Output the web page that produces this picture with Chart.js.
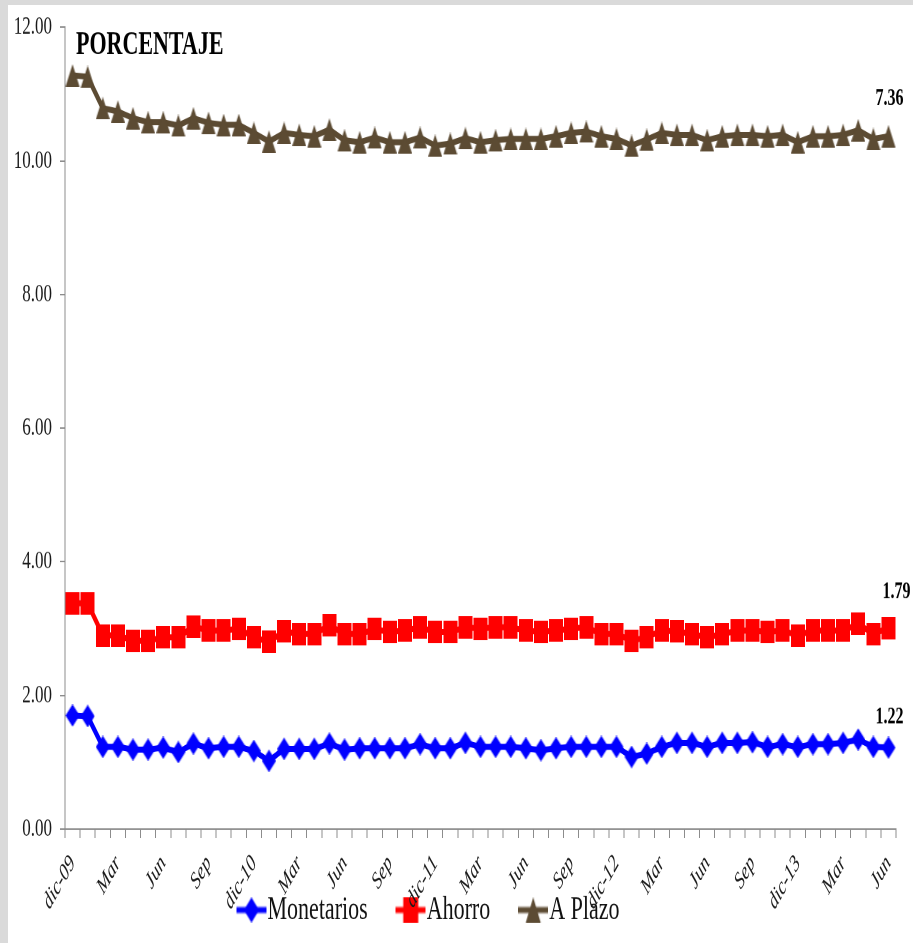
<!DOCTYPE html>
<html><head><meta charset="utf-8">
<script src="https://cdn.jsdelivr.net/npm/chart.js@4.4.1/dist/chart.umd.min.js"></script>
<style>
html,body{margin:0;padding:0;}
body{width:913px;height:943px;background:#dadada;position:relative;overflow:hidden;}
#paper{position:absolute;left:8px;top:5px;right:0;bottom:0;background:#fff;}
#wrap{position:absolute;left:0;top:0;width:913px;height:629px;transform:scale(1,1.4992);transform-origin:0 0;}
#c{width:913px;height:629px;display:block;}
</style></head><body>
<div id="paper"></div>
<div id="wrap"><canvas id="c" width="913" height="629"></canvas></div>
<script>
const categories = ['dic-09','ene-10','feb-10','mar-10','abr-10','may-10','jun-10','jul-10','ago-10','sep-10','oct-10','nov-10',
  'dic-10','ene-11','feb-11','mar-11','abr-11','may-11','jun-11','jul-11','ago-11','sep-11','oct-11','nov-11',
  'dic-11','ene-12','feb-12','mar-12','abr-12','may-12','jun-12','jul-12','ago-12','sep-12','oct-12','nov-12',
  'dic-12','ene-13','feb-13','mar-13','abr-13','may-13','jun-13','jul-13','ago-13','sep-13','oct-13','nov-13',
  'dic-13','ene-14','feb-14','mar-14','abr-14','may-14','jun-14'];
const tickLabels = ['dic-09','Mar','Jun','Sep','dic-10','Mar','Jun','Sep','dic-11','Mar','Jun','Sep','dic-12','Mar','Jun','Sep','dic-13','Mar','Jun'];
const monetarios = [1.70,1.69,1.23,1.23,1.19,1.19,1.22,1.15,1.28,1.21,
  1.23,1.23,1.17,1.02,1.20,1.20,1.20,1.28,1.19,1.21,
  1.21,1.21,1.21,1.27,1.21,1.21,1.29,1.23,1.23,1.23,
  1.21,1.18,1.21,1.23,1.23,1.23,1.23,1.08,1.13,1.23,
  1.29,1.29,1.23,1.29,1.29,1.30,1.23,1.27,1.23,1.27,
  1.27,1.29,1.34,1.23,1.22];
const ahorro = [1.68,1.69,1.67,1.67,1.63,1.63,1.65,1.72,1.75,1.76,
  1.74,1.77,1.70,1.78,1.76,1.72,1.72,1.77,1.73,1.71,
  1.78,1.74,1.76,1.75,1.74,1.74,1.73,1.77,1.79,1.79,
  1.76,1.77,1.76,1.77,1.79,1.69,1.69,1.74,1.74,1.74,
  1.67,1.63,1.64,1.63,1.68,1.67,1.72,1.70,1.67,1.70,
  1.70,1.68,1.73,1.69,1.79];
const aPlazo = [7.90,7.88,7.89,7.84,7.82,7.76,7.71,7.66,7.61,7.60,
  7.57,7.54,7.55,7.49,7.46,7.47,7.45,7.42,7.39,7.36,
  7.36,7.33,7.31,7.33,7.28,7.31,7.32,7.28,7.29,7.31,
  7.36,7.38,7.40,7.42,7.42,7.45,7.41,7.41,7.45,7.45,
  7.43,7.47,7.44,7.45,7.42,7.42,7.42,7.42,7.38,7.40,
  7.40,7.42,7.39,7.41,7.36];
const seriesNames = ['Monetarios','Ahorro','A Plazo'];
const seriesColors = ['#0000ff','#ff0000','#5c4b33'];
const seriesShapes = ['diamond','square','triangle'];
const titleText = 'PORCENTAJE';
const yMin = 0, yMax = 12, yStep = 2;

const SERIF = '"Liberation Serif", "Times New Roman", serif';
const labelOffsets = [[1,-16],[8,-20],[1,-20.7]];
const LEGEND_PAD = 38;
const LEGEND_FONT = 22;
const LEGEND_CENTER_Y = 607;

function shapePath(g, shape, cx, cy, w, h) {
  g.beginPath();
  if (shape === 'diamond') {
    g.moveTo(cx, cy - h/2); g.lineTo(cx + w/2, cy); g.lineTo(cx, cy + h/2); g.lineTo(cx - w/2, cy);
  } else if (shape === 'square') {
    g.rect(cx - w/2, cy - h/2, w, h);
  } else {
    g.moveTo(cx, cy - h/2); g.lineTo(cx + w/2, cy + h/2); g.lineTo(cx - w/2, cy + h/2);
  }
  g.closePath();
}
function makeMarker(shape, color) {
  const c = document.createElement('canvas'); c.width = 14; c.height = 15;
  const g = c.getContext('2d'); g.fillStyle = color;
  shapePath(g, shape, 7, 7.5, 14, 15); g.fill();
  return c;
}
function makeLegendIcon(shape, color) {
  const c = document.createElement('canvas'); c.width = 30; c.height = 17;
  const g = c.getContext('2d'); g.fillStyle = color; g.strokeStyle = color; g.lineWidth = 4;
  g.beginPath(); g.moveTo(0, 8.5); g.lineTo(30, 8.5); g.stroke();
  shapePath(g, shape, 15, 8.5, 15, 17); g.fill();
  return c;
}
const markerIcons = seriesShapes.map((s, i) => makeMarker(s, seriesColors[i]));
const legendIcons = seriesShapes.map((s, i) => makeLegendIcon(s, seriesColors[i]));
const seriesData = [monetarios, ahorro, aPlazo];

const extras = {
  id: 'extras',
  afterLayout(chart) {
    const lg = chart.legend;
    if (lg) {
      lg.left = -15; lg.right = chart.width - 17 - 15;
      lg.width = lg.right - lg.left;
      lg.top = LEGEND_CENTER_Y - LEGEND_FONT / 2 - LEGEND_PAD;
      lg.height = LEGEND_FONT + LEGEND_PAD + 10;
      lg.bottom = lg.top + lg.height;
    }
  },
  afterDatasetsDraw(chart) {
    const ctx = chart.ctx;
    ctx.save();
    ctx.fillStyle = '#000';
    ctx.textBaseline = 'alphabetic';
    ctx.font = 'bold 16px ' + SERIF;
    ctx.textAlign = 'center';
    chart.data.datasets.forEach((ds, i) => {
      const meta = chart.getDatasetMeta(i);
      const pt = meta.data[meta.data.length - 1];
      const v = ds.data[ds.data.length - 1];
      ctx.fillText(v.toFixed(2), pt.x + labelOffsets[i][0], pt.y + labelOffsets[i][1]);
    });
    ctx.font = 'bold 22px ' + SERIF;
    ctx.textAlign = 'left';
    ctx.fillText(titleText, chart.chartArea.left + 11, chart.chartArea.top + 18);
    ctx.restore();
  }
};

new Chart(document.getElementById('c'), {
  type: 'line',
  data: {
    labels: categories,
    datasets: seriesNames.map((name, i) => ({
      label: name,
      data: seriesData[i],
      borderColor: seriesColors[i],
      backgroundColor: seriesColors[i],
      borderWidth: 4,
      pointStyle: markerIcons[i],
      pointRadius: 7,
      pointHoverRadius: 7,
      tension: 0,
      fill: false
    }))
  },
  options: {
    responsive: false,
    devicePixelRatio: 2,
    animation: false,
    events: [],
    layout: { padding: { left: 0, right: 17, top: 16.7, bottom: 0 } },
    scales: {
      x: {
        type: 'category',
        offset: true,
        grid: { display: true, offset: true, drawOnChartArea: false, drawTicks: true, tickLength: 6, color: '#8c8c8c', lineWidth: 1 },
        border: { display: true, color: '#8c8c8c', width: 1 },
        ticks: {
          autoSkip: false, maxRotation: 50, minRotation: 50, padding: 8,
          color: '#1a1a1a', font: { family: SERIF, size: 16, style: 'italic' },
          callback: (v, i) => (i % 3 === 0 ? tickLabels[i / 3] : '')
        },
        afterFit(s) { s.height = 75; }
      },
      y: {
        stacked: true, min: yMin, max: yMax,
        ticks: { stepSize: yStep, padding: 8, color: '#1a1a1a', font: { family: SERIF, size: 17 }, callback: v => Number(v).toFixed(2) },
        grid: { drawOnChartArea: false, drawTicks: true, tickLength: 5, color: '#8c8c8c' },
        border: { display: true, color: '#8c8c8c', width: 1 },
        afterFit(s) { s.width = 65; }
      }
    },
    plugins: {
      tooltip: { enabled: false },
      legend: {
        position: 'bottom', align: 'center', maxHeight: 1,
        labels: {
          usePointStyle: true, pointStyleWidth: 10, padding: LEGEND_PAD,
          color: '#111', font: { family: SERIF, size: LEGEND_FONT },
          generateLabels(chart) {
            const items = Chart.defaults.plugins.legend.labels.generateLabels(chart);
            items.forEach((it, i) => { it.pointStyle = legendIcons[i]; });
            return items;
          }
        }
      }
    }
  },
  plugins: [extras]
});
</script>
</body></html>
